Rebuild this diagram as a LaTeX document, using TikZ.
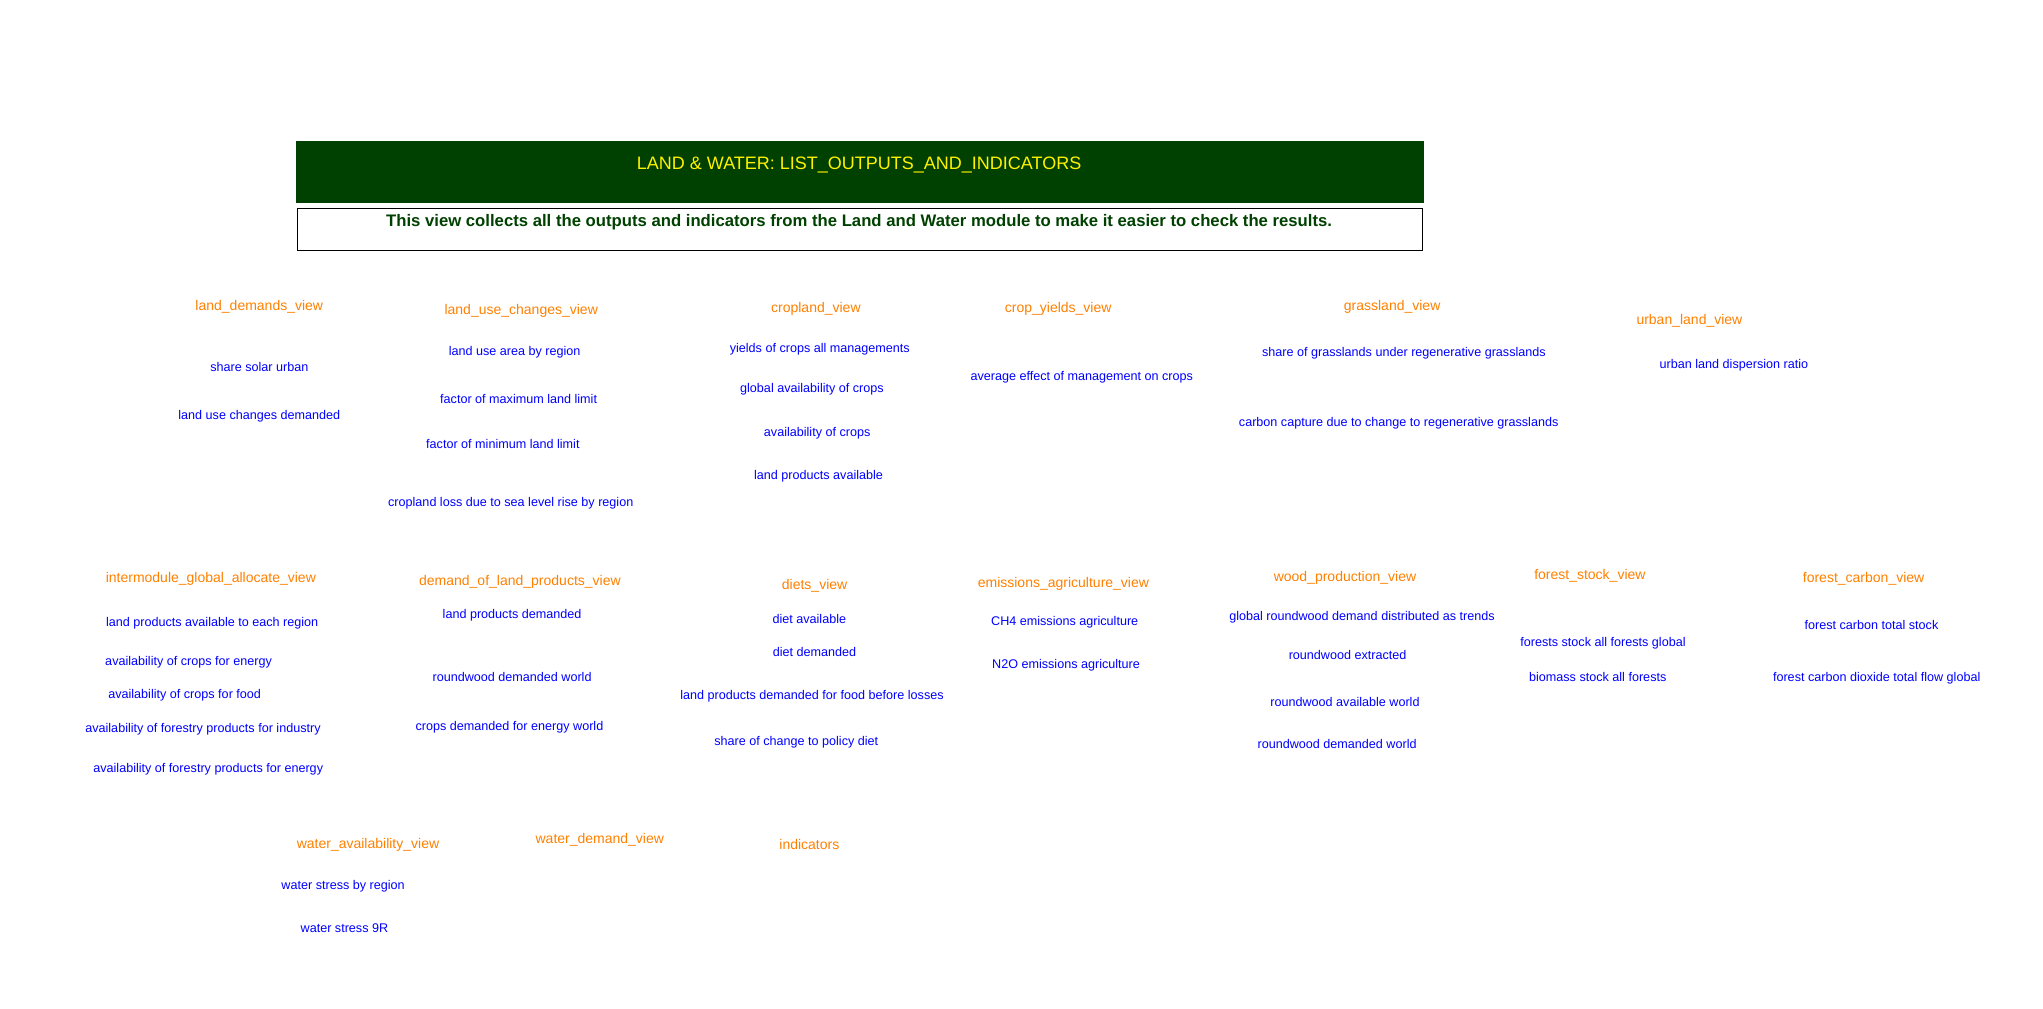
\documentclass[tikz,border=0pt]{standalone}
\usepackage{fontspec}
\setmainfont{Liberation Sans}
\usetikzlibrary{positioning}

\definecolor{hdgreen}{RGB}{0,64,0}
\definecolor{viewor}{RGB}{255,128,0}
\definecolor{varblue}{RGB}{0,0,255}

\tikzset{
  viewname/.style={text=viewor, font=\fontsize{14}{16}\selectfont, inner sep=1pt},
  varname/.style={text=varblue, font=\fontsize{12.6}{14}\selectfont, inner sep=1pt}
}

\begin{document}
\begin{tikzpicture}[x=1.3096pt, y=-1.3096pt]
  \useasboundingbox (0,0) rectangle (1560,770);
  % header
  \fill[hdgreen] (226,108) rectangle (1087,155);
  \node[text=yellow, font=\fontsize{18}{20}\selectfont] (title) at (656,126) {LAND \& WATER: LIST\_OUTPUTS\_AND\_INDICATORS};
  \draw[line width=0.8pt] (227,159) rectangle (1086,191);
  \node[text=hdgreen, font=\bfseries\fontsize{16.7}{19}\selectfont] (descr) at (656,170) {This view collects all the outputs and indicators from the Land and Water module to make it easier to check the results.};

  % first row of views
  \node[viewname] (landdem) at (198,234) {land\_demands\_view};
  \node[varname] (solarurb) at (198,280) {share solar urban};
  \node[varname] (lucdem) at (198,318) {land use changes demanded};

  \node[viewname] (luc) at (398,237) {land\_use\_changes\_view};
  \node[varname] (luarea) at (393,269) {land use area by region};
  \node[varname] (maxlim) at (396,305) {factor of maximum land limit};
  \node[varname] (minlim) at (384,339) {factor of minimum land limit};
  \node[varname] (sealoss) at (390,384) {cropland loss due to sea level rise by region};

  \node[viewname] (cropland) at (623,236) {cropland\_view};
  \node[varname] (yields) at (626,267) {yields of crops all managements};
  \node[varname] (globcrops) at (620,297) {global availability of crops};
  \node[varname] (availcrops) at (624,331) {availability of crops};
  \node[varname] (lpavail) at (625,364) {land products available};

  \node[viewname] (cropyld) at (808,236) {crop\_yields\_view};
  \node[varname] (mgmteff) at (826,288) {average effect of management on crops};

  \node[viewname] (grass) at (1063,234) {grassland\_view};
  \node[varname] (regengr) at (1072,270) {share of grasslands under regenerative grasslands};
  \node[varname] (ccapt) at (1068,323) {carbon capture due to change to regenerative grasslands};

  \node[viewname] (urban) at (1290,245) {urban\_land\_view};
  \node[varname] (dispers) at (1324,279) {urban land dispersion ratio};

  % second row of views
  \node[viewname] (intermod) at (161,442) {intermodule\_global\_allocate\_view};
  \node[varname] (lpregion) at (162,476) {land products available to each region};
  \node[varname] (cropsen) at (144,506) {availability of crops for energy};
  \node[varname] (cropsfood) at (141,531) {availability of crops for food};
  \node[varname] (forind) at (155,557) {availability of forestry products for industry};
  \node[varname] (foren) at (159,587) {availability of forestry products for energy};

  \node[viewname] (demlp) at (397,444) {demand\_of\_land\_products\_view};
  \node[varname] (lpdem) at (391,470) {land products demanded};
  \node[varname] (rwdemw) at (391,517) {roundwood demanded world};
  \node[varname] (cropendem) at (389,555) {crops demanded for energy world};

  \node[viewname] (diets) at (622,447) {diets\_view};
  \node[varname] (dietav) at (618,473) {diet available};
  \node[varname] (dietdem) at (622,498) {diet demanded};
  \node[varname] (lpfood) at (620,532) {land products demanded for food before losses};
  \node[varname] (policydiet) at (608,567) {share of change to policy diet};

  \node[viewname] (emis) at (812,446) {emissions\_agriculture\_view};
  \node[varname] (chfour) at (813,475) {CH4 emissions agriculture};
  \node[varname] (ntwoo) at (814,508) {N2O emissions agriculture};

  \node[viewname] (wood) at (1027,441) {wood\_production\_view};
  \node[varname] (rwtrends) at (1040,471) {global roundwood demand distributed as trends};
  \node[varname] (rwextr) at (1029,500) {roundwood extracted};
  \node[varname] (rwavail) at (1027,536) {roundwood available world};
  \node[varname] (rwdemw2) at (1021,568) {roundwood demanded world};

  \node[viewname] (fstock) at (1214,440) {forest\_stock\_view};
  \node[varname] (fstockglob) at (1224,491) {forests stock all forests global};
  \node[varname] (biomass) at (1220,517) {biomass stock all forests};

  \node[viewname] (fcarbon) at (1423,442) {forest\_carbon\_view};
  \node[varname] (fctotal) at (1429,477) {forest carbon total stock};
  \node[varname] (fcflow) at (1433,518) {forest carbon dioxide total flow global};

  % third row of views
  \node[viewname] (wavail) at (281,645) {water\_availability\_view};
  \node[varname] (wstress) at (262,677) {water stress by region};
  \node[varname] (wstressnine) at (263,709) {water stress 9R};

  \node[viewname] (wdem) at (458,641) {water\_demand\_view};
  \node[viewname] (indic) at (618,645) {indicators};
\end{tikzpicture}
\end{document}
